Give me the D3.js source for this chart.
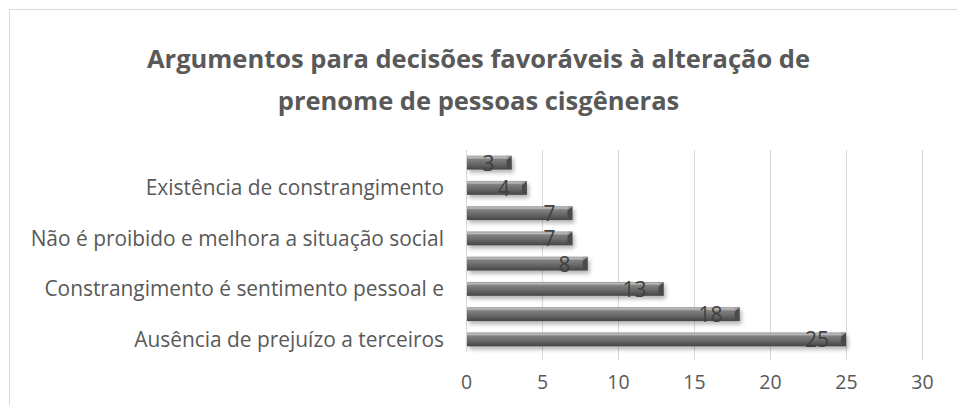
<!DOCTYPE html>
<html>
<head>
<meta charset="utf-8">
<script src="https://cdn.jsdelivr.net/npm/d3@7"></script>
<style>
  body { margin: 0; background: #fff; }
  #chart { width: 957px; height: 405px; }
  text { font-family: "Open Sans", "Liberation Sans", sans-serif; }
</style>
</head>
<body>
<div id="chart"></div>
<script>
// categories bottom-up, as in the spreadsheet; Excel hides every second label
const categories = [
  "Ausência de prejuízo a terceiros",
  "",
  "Constrangimento é sentimento pessoal e",
  "",
  "Não é proibido e melhora a situação social",
  "",
  "Existência de constrangimento",
  ""
];
const values = [25, 18, 13, 8, 7, 7, 4, 3];
const xTicks = [0, 5, 10, 15, 20, 25, 30];
const titleLines = [
  "Argumentos para decisões favoráveis à alteração de",
  "prenome de pessoas cisgêneras"
];

const drawChart = () => {
  const fullWidth = 957;
  const fullHeight = 405;
  const margin = { top: 150, right: 35, bottom: 53, left: 466 };
  const width = fullWidth - margin.left - margin.right;
  const height = fullHeight - margin.top - margin.bottom;

  const svg = d3
    .select("#chart")
    .append("svg")
    .attr("width", fullWidth)
    .attr("height", fullHeight);

  const defs = svg.append("defs");
  const grad = defs
    .append("linearGradient")
    .attr("id", "barGrad")
    .attr("x1", 0).attr("y1", 0).attr("x2", 0).attr("y2", 1);
  [["0%", "#9a9a9a"], ["14%", "#bdbdbd"], ["26%", "#808080"], ["60%", "#686868"], ["100%", "#454545"]]
    .forEach(s => grad.append("stop").attr("offset", s[0]).attr("stop-color", s[1]));

  const shadow = defs.append("filter").attr("id", "shadow")
    .attr("x", "-5%").attr("y", "-50%").attr("width", "115%").attr("height", "220%");
  shadow.append("feDropShadow")
    .attr("dx", 2).attr("dy", 3).attr("stdDeviation", 2)
    .attr("flood-color", "#000").attr("flood-opacity", 0.3);

  // chart border
  svg.append("rect")
    .attr("x", 9.5).attr("y", 9.5)
    .attr("width", 960).attr("height", 420)
    .attr("fill", "none")
    .attr("stroke", "#d9d9d9")
    .attr("stroke-width", 1);

  // title
  svg.append("g")
    .selectAll("text")
    .data(titleLines)
    .enter()
    .append("text")
    .attr("x", fullWidth / 2)
    .attr("y", (d, i) => 68 + i * 42)
    .attr("text-anchor", "middle")
    .style("font-size", "25.5px")
    .style("font-weight", "bold")
    .style("fill", "#595959")
    .text(d => d);

  const g = svg.append("g")
    .attr("transform", `translate(${margin.left}, ${margin.top})`);

  const x = d3.scaleLinear().domain([0, 30]).range([0, width]);
  const y = d3.scaleBand()
    .domain(d3.range(categories.length))
    .range([height, 0])
    .paddingInner(0.45)
    .paddingOuter(0.225);

  // gridlines
  g.append("g")
    .selectAll("line")
    .data(xTicks.slice(1))
    .enter()
    .append("line")
    .attr("x1", d => x(d) + 0.5)
    .attr("x2", d => x(d) + 0.5)
    .attr("y1", 0)
    .attr("y2", height + 8)
    .attr("stroke", "#d9d9d9");

  // category axis line
  g.append("line")
    .attr("x1", 0.5).attr("x2", 0.5)
    .attr("y1", 0).attr("y2", height)
    .attr("stroke", "#d9d9d9");

  // value axis
  const xAxis = g.append("g")
    .attr("transform", `translate(0, ${height})`)
    .call(d3.axisBottom(x).tickValues(xTicks).tickSize(0).tickPadding(23));
  xAxis.select(".domain").remove();
  xAxis.selectAll("text")
    .style("font-size", "19.5px")
    .style("fill", "#595959")
    .attr("font-family", null);

  // category labels
  g.append("g")
    .selectAll("text")
    .data(categories)
    .enter()
    .append("text")
    .attr("x", -22)
    .attr("y", (d, i) => y(i) + y.bandwidth() / 2)
    .attr("dy", "0.36em")
    .attr("text-anchor", "end")
    .style("font-size", "20.9px")
    .style("fill", "#595959")
    .text(d => d);

  // bars
  const bars = g.append("g")
    .selectAll("g")
    .data(values)
    .enter()
    .append("g");

  bars.append("rect")
    .attr("x", 1)
    .attr("y", (d, i) => y(i))
    .attr("width", d => x(d) - 1)
    .attr("height", y.bandwidth())
    .attr("fill", "url(#barGrad)")
    .attr("filter", "url(#shadow)");

  // bevel facets at the bar end
  bars.append("path")
    .attr("d", (d, i) => {
      const x1 = x(d), top = y(i), bh = y.bandwidth();
      return `M${x1 - 5},${top + 4} L${x1},${top} L${x1},${top + bh} L${x1 - 5},${top + bh - 3} Z`;
    })
    .attr("fill", "#4a4a4a");

  bars.append("path")
    .attr("d", (d, i) => {
      const x1 = x(d), top = y(i);
      return `M${x1 - 5},${top + 4} L${x1},${top} L${x1 - 5},${top} Z`;
    })
    .attr("fill", "#9c9c9c");

  // data labels
  bars.append("text")
    .attr("x", d => x(d) - 17)
    .attr("y", (d, i) => y(i) + y.bandwidth() / 2)
    .attr("dy", "0.38em")
    .attr("text-anchor", "end")
    .style("font-size", "21px")
    .style("fill", "#404040")
    .text(d => d);
};

drawChart();
</script>
</body>
</html>
